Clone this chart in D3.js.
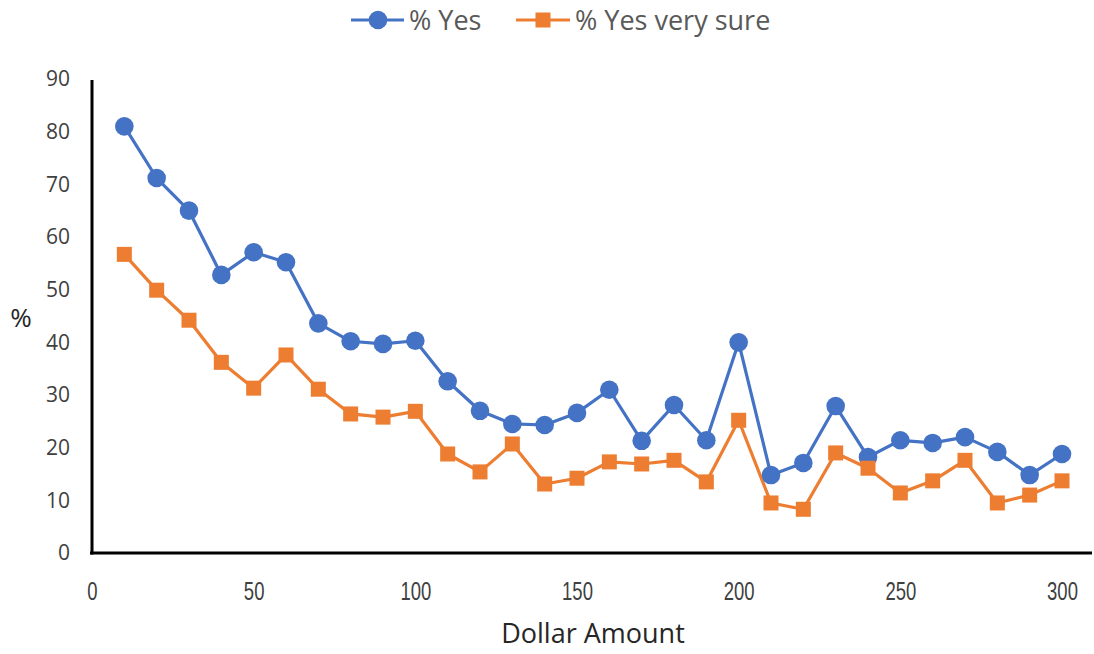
<!DOCTYPE html>
<html><head><meta charset="utf-8">
<script src="https://cdn.jsdelivr.net/npm/d3@7"></script>
<style>body{margin:0;background:#fff}svg{display:block}</style>
</head><body>
<svg id="c" width="1094" height="654"></svg>
<script>
const dollars = [10,20,30,40,50,60,70,80,90,100,110,120,130,140,150,160,170,180,190,200,210,220,230,240,250,260,270,280,290,300];
const pctYes = [81,71.2,65,52.8,57.1,55.2,43.6,40.2,39.7,40.3,32.6,27,24.5,24.3,26.6,31,21.3,28.1,21.4,40,14.8,17.1,27.9,18.2,21.4,20.9,22,19.2,14.8,18.8];
const pctYesSure = [56.7,49.9,44.2,36.2,31.3,37.6,31.1,26.4,25.8,26.9,18.8,15.4,20.7,13.1,14.2,17.3,16.9,17.6,13.5,25.2,9.5,8.3,19,16.1,11.4,13.7,17.6,9.5,11,13.7];
const xTicks = [0,50,100,150,200,250,300];
const yTicks = [0,10,20,30,40,50,60,70,80,90];
const seriesNames = ["% Yes","% Yes very sure"];
const colors = ["#4472C4","#ED7D31"];

const svg = d3.select("#c");
const x = d3.scaleLinear().domain([0,300]).range([92,1062]);
const y = d3.scaleLinear().domain([0,90]).range([553,79]);

// axes
const xAxis = svg.append("g").attr("transform","translate(0,553)")
  .call(d3.axisBottom(x).tickValues(xTicks).tickSize(0).tickPadding(0));
xAxis.select(".domain").remove();
xAxis.append("line").attr("x1",90).attr("x2",1092).attr("y1",0).attr("y2",0).attr("stroke","#000").attr("stroke-width",3);
xAxis.selectAll(".tick text")
  .attr("font-family","'Liberation Sans',Arial,sans-serif").attr("font-size",25).attr("fill","#404040")
  .attr("dy",null).attr("y",0)
  .attr("transform","translate(0,47) scale(0.74,1)");

const yAxis = svg.append("g").attr("transform","translate(92,0)")
  .call(d3.axisLeft(y).tickValues(yTicks).tickSize(0).tickPadding(22));
yAxis.select(".domain").remove();
yAxis.append("line").attr("x1",0).attr("x2",0).attr("y1",y(90)+1).attr("y2",554.5).attr("stroke","#000").attr("stroke-width",3);
yAxis.selectAll("text").attr("font-family","'Open Sans','Noto Sans',sans-serif").attr("font-size",21).attr("fill","#404040");

svg.append("text").attr("x",593).attr("y",643).attr("text-anchor","middle")
  .attr("font-family","'Open Sans','Noto Sans',sans-serif").attr("font-size",27).attr("fill","#262626").text("Dollar Amount");
svg.append("text").attr("x",21).attr("y",327).attr("text-anchor","middle")
  .attr("font-family","'Open Sans','Noto Sans',sans-serif").attr("font-size",26).attr("fill","#262626").text("%");

const line = d3.line().x((d,i)=>x(dollars[i])).y(d=>y(d));
[pctYes,pctYesSure].forEach((vals,k)=>{
  svg.append("path").datum(vals).attr("d",line).attr("fill","none").attr("stroke",colors[k]).attr("stroke-width",3.2).attr("stroke-linejoin","round");
});
svg.append("g").selectAll("circle").data(pctYes).join("circle")
  .attr("cx",(d,i)=>x(dollars[i])).attr("cy",d=>y(d)).attr("r",9.3).attr("fill",colors[0]);
svg.append("g").selectAll("rect").data(pctYesSure).join("rect")
  .attr("x",(d,i)=>x(dollars[i])-7.5).attr("y",d=>y(d)-7.5).attr("width",15).attr("height",15).attr("fill",colors[1]);

// legend
const lg = svg.append("g");
lg.append("line").attr("x1",351).attr("x2",404).attr("y1",20).attr("y2",20).attr("stroke",colors[0]).attr("stroke-width",3.2);
lg.append("circle").attr("cx",378).attr("cy",20).attr("r",9.3).attr("fill",colors[0]);
lg.append("text").attr("x",409).attr("y",30).attr("font-family","'Open Sans','Noto Sans',sans-serif").attr("font-size",27).attr("fill","#595959").text(seriesNames[0]);
lg.append("line").attr("x1",516).attr("x2",570).attr("y1",20).attr("y2",20).attr("stroke",colors[1]).attr("stroke-width",3.2);
lg.append("rect").attr("x",535.5).attr("y",12.5).attr("width",15).attr("height",15).attr("fill",colors[1]);
lg.append("text").attr("x",575).attr("y",30).attr("font-family","'Open Sans','Noto Sans',sans-serif").attr("font-size",27).attr("fill","#595959").text(seriesNames[1]);
</script>
</body></html>
